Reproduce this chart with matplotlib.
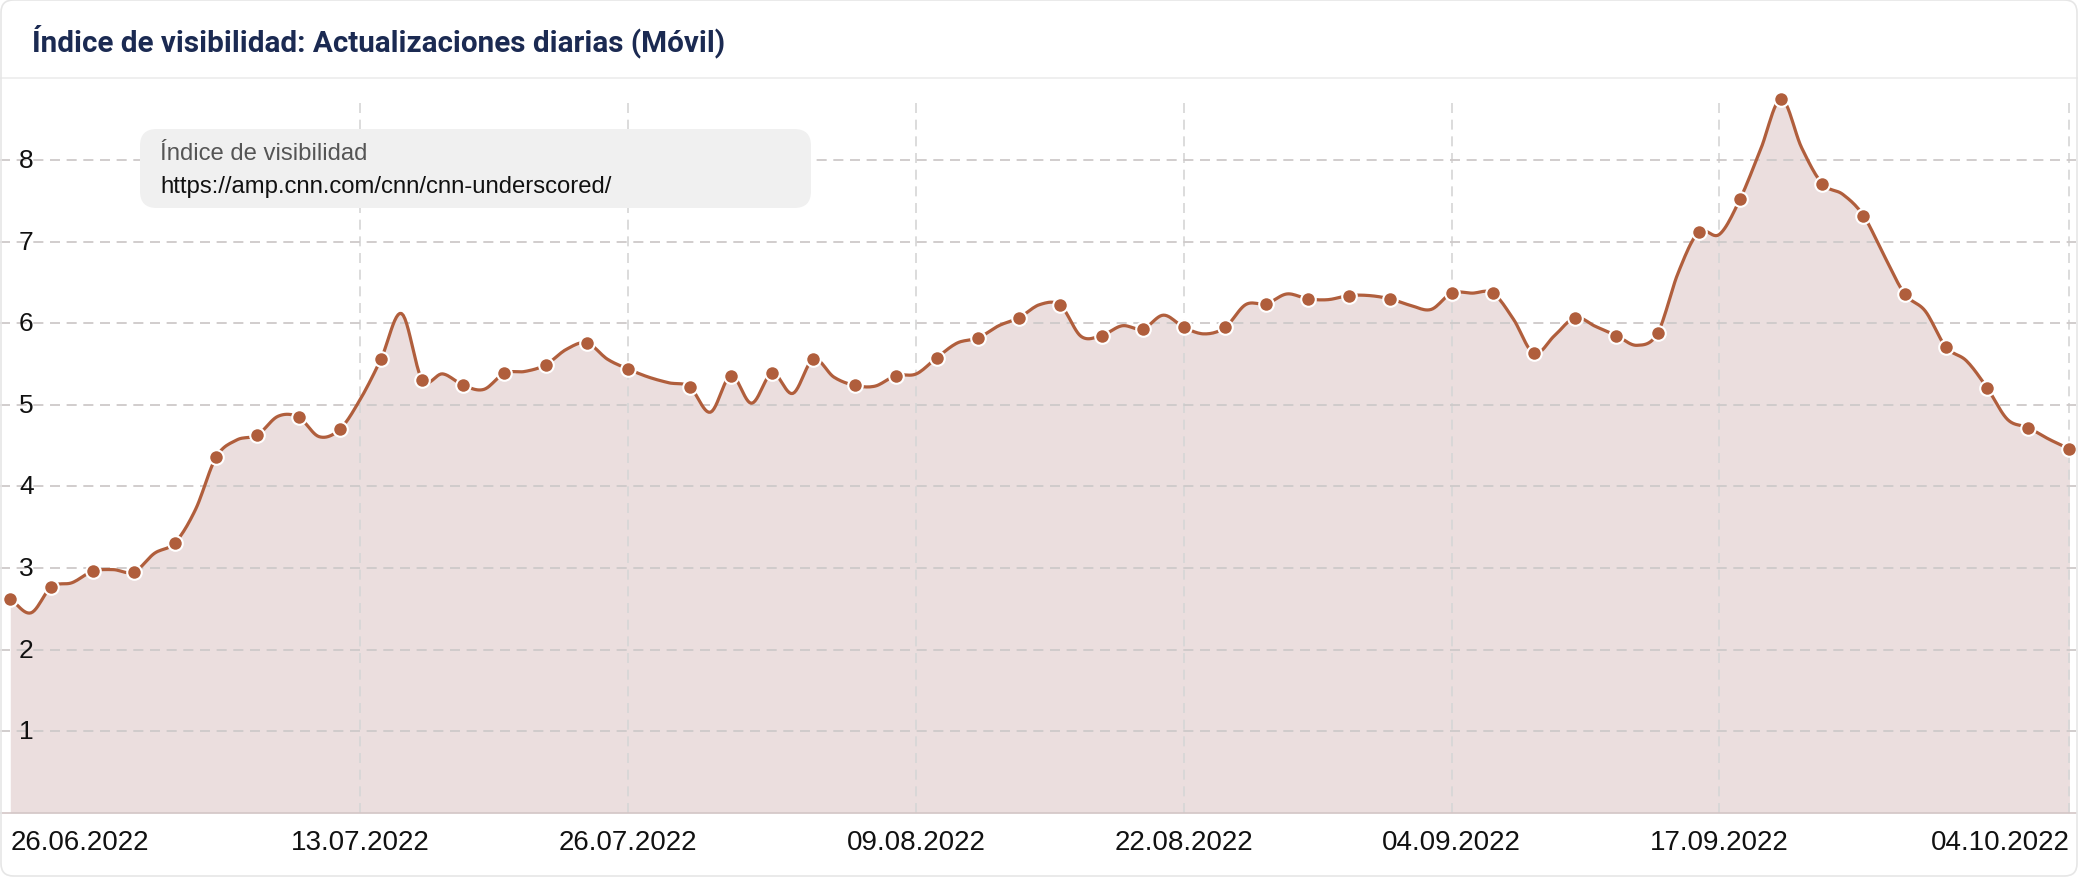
import numpy as np
import pandas as pd
import matplotlib
matplotlib.use("Agg")
from matplotlib import pyplot as plt
from matplotlib.patches import FancyBboxPatch
import matplotlib.dates as mdates

# daily visibility index, 26.06.2022 .. 04.10.2022
start_date = "2022-06-26"
end_date = "2022-10-04"
values = [
	2.62, 2.45, 2.77, 2.82, 2.96, 2.98, 2.95, 3.18, 3.31, 3.72,
	4.36, 4.57, 4.63, 4.86, 4.85, 4.61, 4.70, 5.07, 5.56, 6.12,
	5.31, 5.38, 5.24, 5.19, 5.39, 5.41, 5.49, 5.68, 5.76, 5.56,
	5.44, 5.34, 5.27, 5.22, 4.91, 5.36, 5.02, 5.39, 5.14, 5.56,
	5.34, 5.24, 5.23, 5.36, 5.38, 5.58, 5.76, 5.82, 5.97, 6.07,
	6.23, 6.22, 5.84, 5.85, 5.97, 5.93, 6.10, 5.95, 5.87, 5.95,
	6.23, 6.24, 6.36, 6.30, 6.29, 6.34, 6.34, 6.30, 6.22, 6.17,
	6.37, 6.37, 6.37, 6.05, 5.63, 5.85, 6.07, 5.96, 5.85, 5.73,
	5.88, 6.62, 7.12, 7.09, 7.52, 8.13, 8.75, 8.15, 7.71, 7.58,
	7.32, 6.83, 6.36, 6.15, 5.71, 5.54, 5.21, 4.82, 4.72, 4.58,
	4.46,
]
# days that carry a marker
marker_dates = [
	"2022-06-26", "2022-06-28", "2022-06-30", "2022-07-02", "2022-07-04",
	"2022-07-06", "2022-07-08", "2022-07-10", "2022-07-12", "2022-07-14",
	"2022-07-16", "2022-07-18", "2022-07-20", "2022-07-22", "2022-07-24",
	"2022-07-26", "2022-07-29", "2022-07-31", "2022-08-02", "2022-08-04",
	"2022-08-06", "2022-08-08", "2022-08-10", "2022-08-12", "2022-08-14",
	"2022-08-16", "2022-08-18", "2022-08-20", "2022-08-22", "2022-08-24",
	"2022-08-26", "2022-08-28", "2022-08-30", "2022-09-01", "2022-09-04",
	"2022-09-06", "2022-09-08", "2022-09-10", "2022-09-12", "2022-09-14",
	"2022-09-16", "2022-09-18", "2022-09-20", "2022-09-22", "2022-09-24",
	"2022-09-26", "2022-09-28", "2022-09-30", "2022-10-02", "2022-10-04",
]
tick_dates = ["2022-06-26", "2022-07-13", "2022-07-26", "2022-08-09",
	"2022-08-22", "2022-09-04", "2022-09-17", "2022-10-04"]
tick_labels = ["26.06.2022", "13.07.2022", "26.07.2022", "09.08.2022",
	"22.08.2022", "04.09.2022", "17.09.2022", "04.10.2022"]
y_ticks = [1, 2, 3, 4, 5, 6, 7, 8]

title = "Índice de visibilidad: Actualizaciones diarias (Móvil)"
legend_title = "Índice de visibilidad"
legend_url = "https://amp.cnn.com/cnn/cnn-underscored/"

LINE = "#b05e3c"
FILL = "#ebdede"
GRID = "#d6d6d6"

W, H = 2078, 878


def catmull(x, y, n=12):
	# smooth curve through the points (spline look of the original)
	x = np.asarray(x, float)
	y = np.asarray(y, float)
	p = np.concatenate([[2 * y[0] - y[1]], y, [2 * y[-1] - y[-2]]])
	t = np.linspace(0, 1, n, endpoint=False)
	xs, ys = [], []
	for i in range(len(y) - 1):
		p0, p1, p2, p3 = p[i], p[i + 1], p[i + 2], p[i + 3]
		ys.append(0.5 * (2 * p1 + (-p0 + p2) * t + (2 * p0 - 5 * p1 + 4 * p2 - p3) * t ** 2
			+ (-p0 + 3 * p1 - 3 * p2 + p3) * t ** 3))
		xs.append(x[i] + t * (x[i + 1] - x[i]))
	xs.append([x[-1]])
	ys.append([y[-1]])
	return np.concatenate(xs), np.concatenate(ys)


def fx(px):
	return px / W


def fy(py):
	return 1 - py / H


dates = pd.date_range(start_date, end_date, freq="D")
xnum = mdates.date2num(dates)
series = pd.Series(values, index=dates)
mk = pd.to_datetime(marker_dates)
mx = mdates.date2num(mk)
my = series.loc[mk].values

fig = plt.figure(figsize=(W / 100, H / 100), dpi=100)
fig.patch.set_facecolor("white")

ax = fig.add_axes([0, fy(813.7), fx(2076), (813.7 - 100) / H])
ax.set_facecolor("white")

sx, sy = catmull(xnum, values)
ax.fill_between(sx, 0, sy, color=FILL, lw=0, zorder=1)
ax.plot(sx, sy, color=LINE, lw=2.3, zorder=4, solid_capstyle="round")
ax.plot(mx, my, "o", color=LINE, ms=10.5, mec="white", mew=1.5, zorder=5, clip_on=False)

tnum = mdates.date2num(pd.to_datetime(tick_dates))
for y in y_ticks:
	ax.axhline(y, color=GRID, lw=1.2, dashes=(6, 4), zorder=2)
for x in tnum[1:]:
	ax.axvline(x, color=GRID, lw=1.2, dashes=(6, 4), zorder=2)
# gridlines look darker over the fill
for y in y_ticks:
	ax.axhline(y, color="#b8a8a8", lw=1.2, dashes=(6, 4), zorder=2.5, alpha=0.3)

ax.set_xlim(xnum[0] - 0.5, xnum[-1] + 0.32)
ax.set_ylim(0, 8.75)

ax.set_xticks(tnum)
ax.set_xticklabels(tick_labels, fontsize=20, color="#111111", family="Liberation Sans")
lbls = ax.get_xticklabels()
lbls[0].set_ha("left")
lbls[-1].set_ha("right")
ax.tick_params(axis="x", length=0, pad=12)
ax.set_yticks([])
for y in y_ticks:
	ax.text(fx(19), y, str(y), transform=ax.get_yaxis_transform(), ha="left", va="center",
		fontsize=19, color="#111111", family="Liberation Sans", zorder=6)

for s in ["top", "left", "right"]:
	ax.spines[s].set_visible(False)
ax.spines["bottom"].set_color("#d3c6c6")
ax.spines["bottom"].set_linewidth(1.2)
ax.spines["bottom"].set_zorder(6)

# legend box
box = FancyBboxPatch((fx(140), fy(209)), fx(671), (209 - 130) / H,
	boxstyle="round,pad=0,rounding_size=0.008", transform=fig.transFigure,
	facecolor="#f0f0f0", edgecolor="none", zorder=10, mutation_aspect=W / H)
fig.add_artist(box)
fig.text(fx(160), fy(154), legend_title, fontsize=17.2, color="#555555",
	family="Liberation Sans", va="center", ha="left", zorder=11)
fig.text(fx(160), fy(187), legend_url, fontsize=17.2, color="#111111",
	family="Liberation Sans", va="center", ha="left", zorder=11)

# header
fig.text(fx(32), fy(41), title, fontsize=21.3, fontweight="bold", color="#1b2a52",
	family="Roboto", va="center", ha="left")
fig.add_artist(plt.Line2D([0, 1], [fy(79), fy(79)], transform=fig.transFigure,
	color="#ececec", lw=1.2))

# card border
card = FancyBboxPatch((fx(1), fy(877)), fx(2076), 876 / H,
	boxstyle="round,pad=0,rounding_size=0.006", transform=fig.transFigure,
	facecolor="none", edgecolor="#e6e6e6", lw=1.2, zorder=20, mutation_aspect=W / H)
fig.add_artist(card)

fig.savefig("out.png", dpi=100)
